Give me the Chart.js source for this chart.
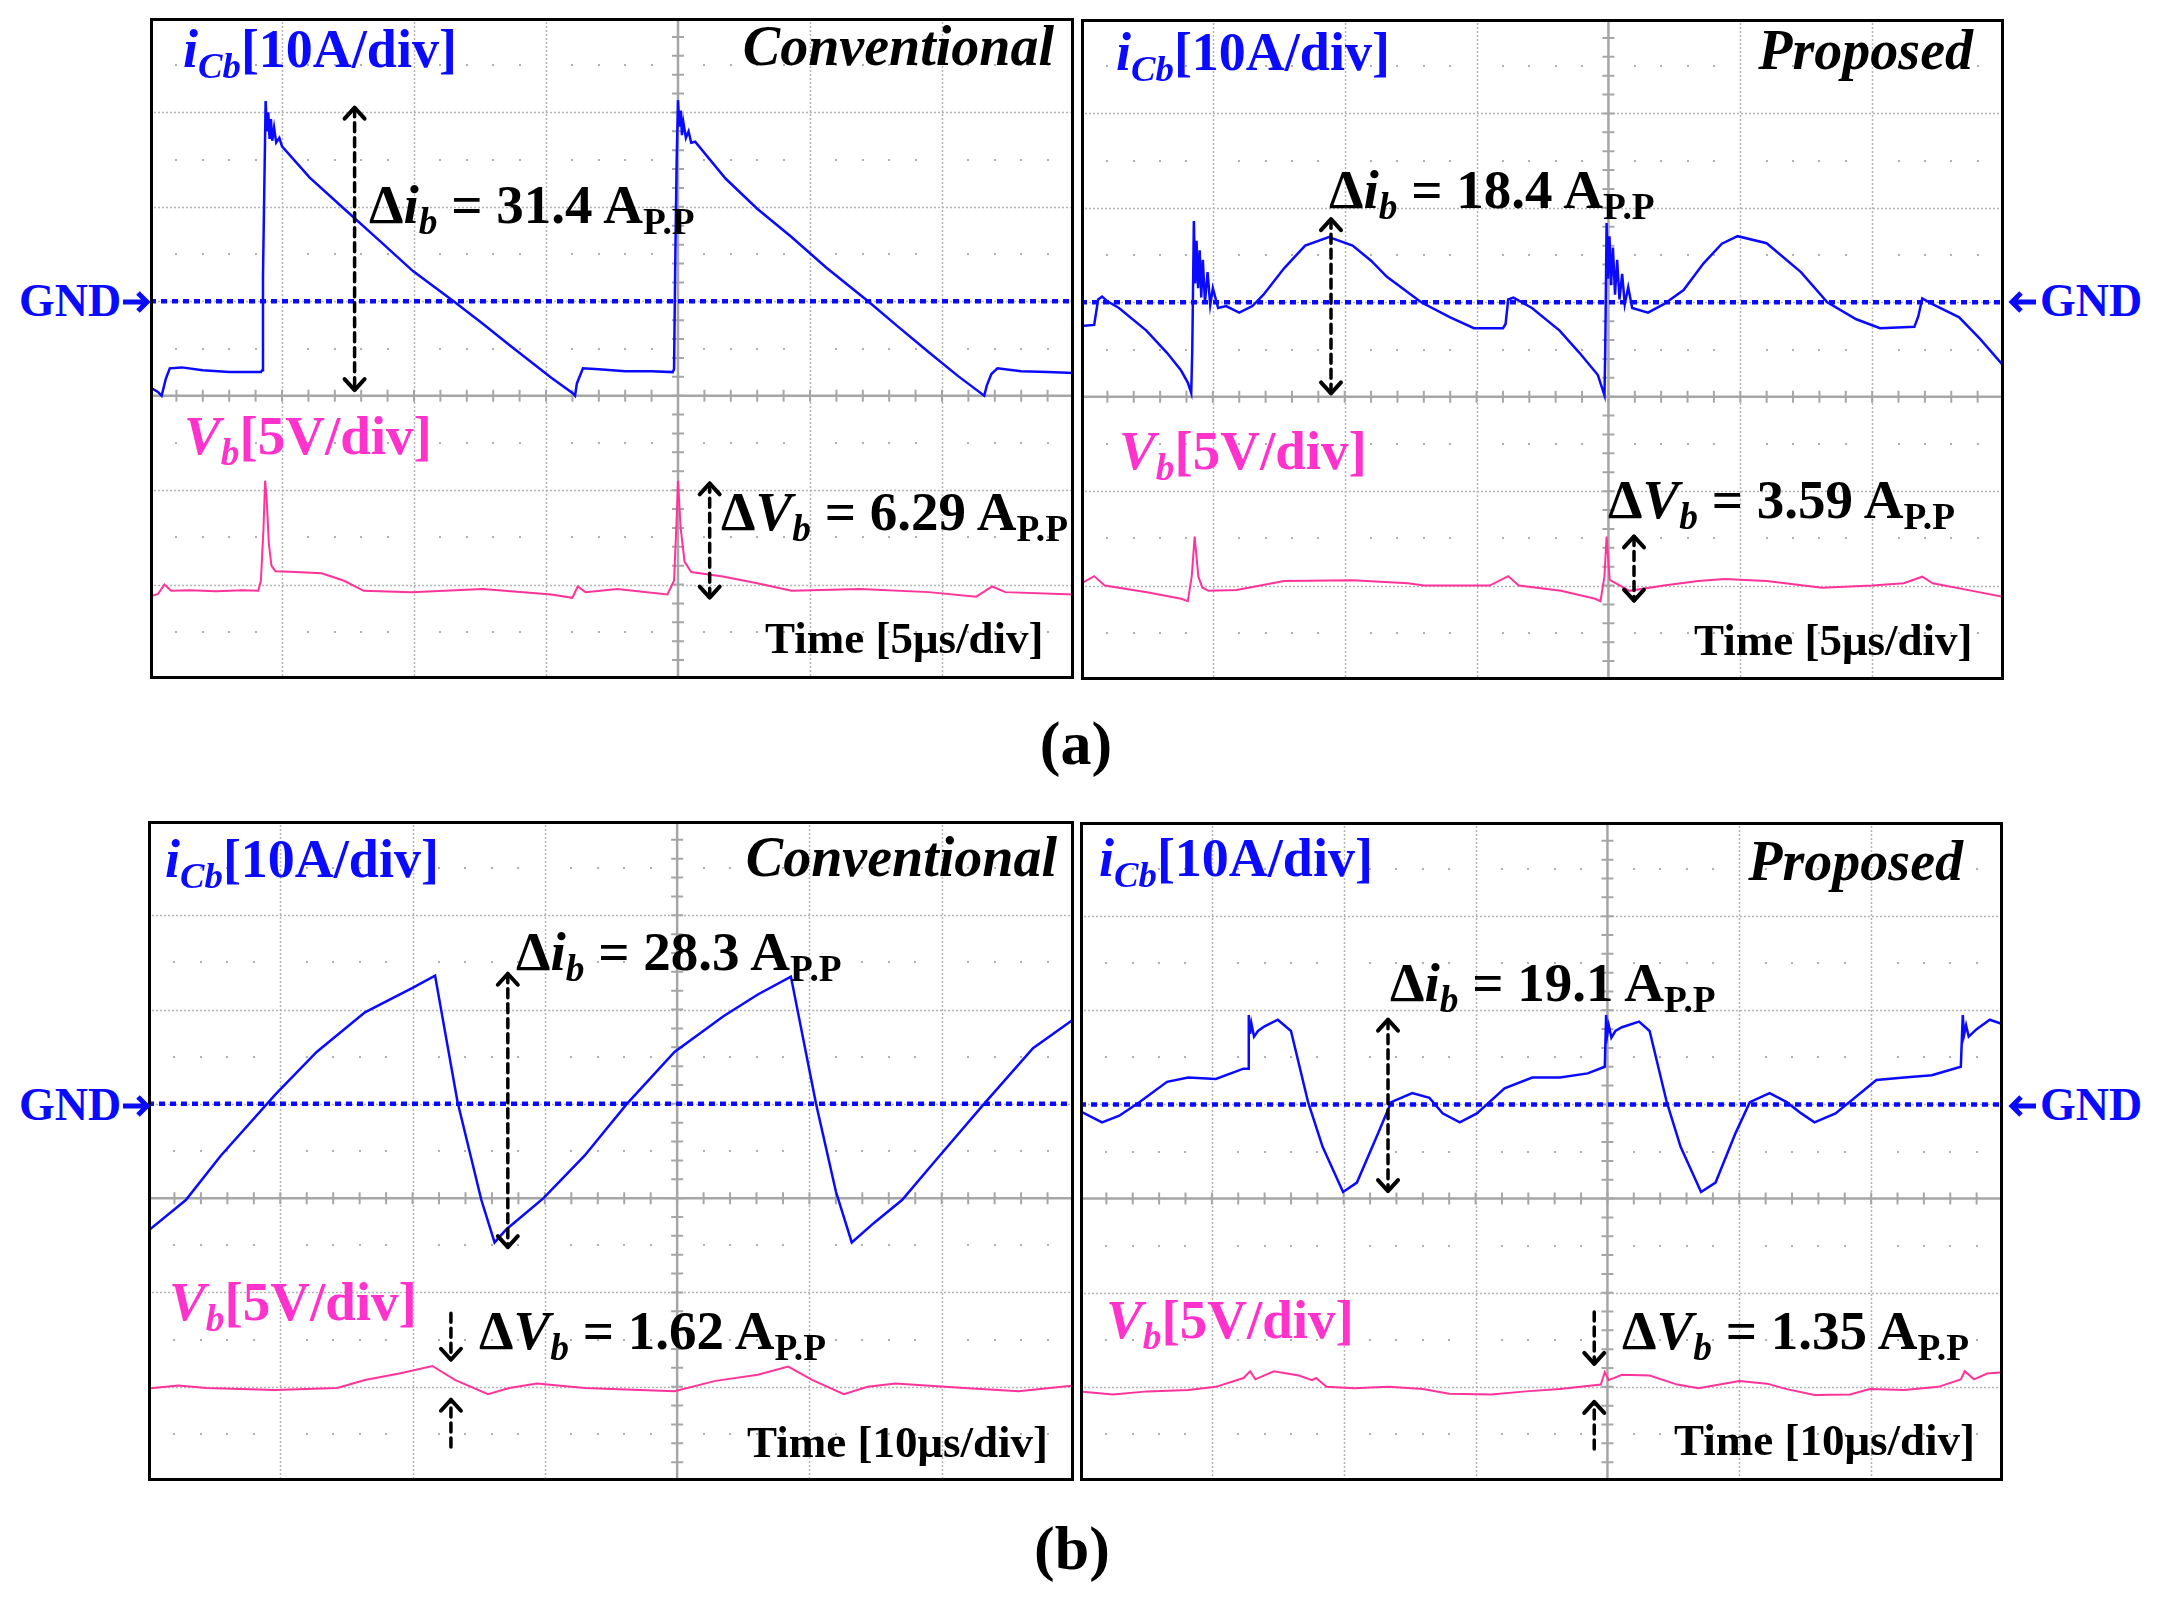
<!DOCTYPE html>
<html>
<head>
<meta charset="utf-8">
<script src="https://cdn.jsdelivr.net/npm/chart.js@4.4.0/dist/chart.umd.min.js"></script>
<style>
  body { margin: 0; width: 2158px; height: 1599px; background: #fff; position: relative; overflow: hidden; }
  .panel { position: absolute; overflow: hidden; background: #fff; }
  .panel canvas { position: absolute; left: 0; top: 0; display: block; }
  .frame { position: absolute; left: 0; top: 0; right: 0; bottom: 0; border: 3px solid #000; box-sizing: border-box; }
  .lbl { position: absolute; white-space: nowrap; font-family: "Liberation Serif", "Times New Roman", serif;
         font-weight: bold; line-height: 1; }
  .lbl sub { font-size: 0.68em; vertical-align: baseline; position: relative; top: 0.3em; line-height: 0; }
  .arw { position: absolute; }
</style>
</head>
<body>
<script>
// ---- (a) conventional, 5us/div ----
const a1Time = [0, 0.3, 0.44, 0.6, 0.75, 1.2, 2.0, 3.0, 4.2, 4.25, 4.28, 4.33, 4.38, 4.43, 4.48, 4.53, 4.58, 4.63, 4.7, 4.78, 4.9, 5.0,
  6.05, 7.35, 8.66, 9.96, 11.5, 12.57, 13.6, 15.2, 16.0, 16.1, 16.17, 16.4, 17.0, 18.0, 19.0, 19.8, 19.85, 19.9, 19.95, 20.0,
  20.05, 20.1, 20.15, 20.2, 20.3, 20.4, 20.5, 20.65, 21.8, 23.0, 24.3, 25.6, 27.2, 28.3, 29.5, 30.6, 31.6, 31.7, 31.87, 32.1, 33.0, 34.0, 35];
const a1Icb = [-9.1, -9.6, -10.0, -8.2, -7.1, -7.0, -7.3, -7.5, -7.5, -7.3, 2.7, 12.0, 21.2, 18.0, 20.0, 17.2, 19.3, 17.0, 18.4, 16.8, 17.3, 16.4,
  13.1, 9.8, 6.5, 3.2, 0, -2.3, -4.6, -8.1, -9.7, -10.0, -8.7, -7.1, -7.2, -7.4, -7.4, -7.5, -7.2, 5.0, 15.0, 21.3,
  18.5, 20.2, 17.6, 19.0, 17.3, 18.0, 16.8, 16.9, 13.0, 9.8, 6.8, 3.6, 0, -2.6, -5.4, -7.9, -10.0, -8.9, -7.7, -7.1, -7.4, -7.5, -7.6];
const a1VbTime = [0, 0.3, 0.55, 0.8, 1.5, 2.5, 3.5, 4.1, 4.2, 4.3, 4.36, 4.42, 4.5, 4.6, 4.75, 5.5, 6.5, 7.35, 8.1, 9.9, 12.6, 15.2, 16.0,
  16.2, 16.5, 17.7, 19.6, 19.85, 19.95, 20.0, 20.1, 20.25, 20.5, 21.7, 23.0, 24.3, 26.9, 29.5, 31.3, 31.9, 32.4, 35];
const a1Vb = [-0.64, -0.5, 0, -0.33, -0.3, -0.35, -0.3, -0.33, 0.2, 3.0, 5.5, 4.5, 2.2, 1.0, 0.7, 0.66, 0.6, 0.2, -0.33, -0.4, -0.24, -0.52, -0.7,
  -0.1, -0.4, -0.24, -0.52, 0.2, 3.5, 5.5, 3.0, 1.2, 0.66, 0.43, 0.07, -0.33, -0.24, -0.4, -0.64, -0.1, -0.4, -0.52];

// ---- (a) proposed, 5us/div ----
const a2Time = [0, 0.5, 0.65, 0.8, 1.0, 1.44, 2.48, 3.26, 3.79, 4.05, 4.18, 4.22, 4.28, 4.33, 4.38, 4.44, 4.5, 4.56, 4.62, 4.7, 4.8, 4.9, 5.0,
  5.2, 5.5, 6.0, 6.5, 6.92, 7.7, 8.5, 9.4, 10.3, 11.0, 11.6, 12.9, 14.0, 14.9, 16.0, 16.1, 16.2, 16.4, 17.1, 18.15, 18.9, 19.6, 19.85,
  19.88, 19.93, 19.98, 20.04, 20.1, 20.17, 20.25, 20.33, 20.42, 20.52, 20.62, 20.75, 20.9, 21.5, 22.1, 22.85, 23.6, 24.3, 24.9, 26.0,
  27.3, 28.3, 29.4, 30.3, 31.6, 31.75, 31.9, 32.25, 33.3, 34.1, 35];
const a2Icb = [-2.5, -2.4, 0.3, 0.6, 0.1, -0.6, -3.0, -5.35, -7.2, -8.5, -9.6, -5.0, 8.6, 2.0, 6.5, 1.5, 5.5, 0.5, 4.5, 0.0, 3.2, -0.3, 1.5,
  -0.6, -0.4, -1.1, -0.4, 0.8, 3.6, 6.0, 6.9, 6.0, 4.4, 2.7, 0, -1.6, -2.75, -2.75, -2.3, 0.3, 0.5, -0.6, -3.0, -5.35, -7.7, -9.85,
  -5.0, 8.4, 2.5, 7.0, 1.8, 5.8, 0.8, 4.5, 0.3, 3.0, -0.2, 1.6, -0.6, -1.1, -0.2, 1.3, 4.1, 6.2, 7.0, 6.25,
  3.2, 0, -1.8, -2.75, -2.6, -1.5, 0.4, -0.15, -1.6, -3.9, -6.8];
const a2VbTime = [0, 0.5, 0.9, 2.5, 3.8, 4.05, 4.2, 4.31, 4.45, 4.6, 4.83, 5.9, 7.7, 10.3, 12.4, 13.0, 15.5, 16.2, 16.6, 18.2, 19.5, 19.7,
  19.85, 19.93, 20.05, 20.8, 22.1, 23.4, 24.4, 26.0, 28.1, 30.0, 31.2, 31.9, 32.3, 33.8, 35];
const a2Vb = [0.1, 0.5, 0, -0.35, -0.7, -0.83, 0.5, 2.6, 0.47, -0.1, -0.28, -0.24, 0.24, 0.28, 0.12, 0, 0, 0.5, 0, -0.28, -0.7, -0.83,
  0.5, 2.6, 0.3, -0.28, 0, 0.24, 0.35, 0.24, -0.12, 0, 0.12, 0.47, 0.12, -0.28, -0.6];

// ---- (b) conventional, 10us/div ----
const b1Time = [0, 0.15, 2.86, 5.5, 9.6, 12.75, 16.4, 20.0, 21.7, 23.4, 25.2, 26.2, 27.1, 29.9, 33.0, 36.2, 39.8, 43.5, 46.1, 48.6,
  50.5, 52.0, 53.2, 54.9, 57.0, 59.6, 63.2, 66.9, 70];
const b1Icb = [-13.6, -13.3, -10.2, -5.5, 0.95, 5.5, 9.7, 12.3, 13.6, 0.2, -10.2, -14.7, -13.3, -10.0, -5.5, 0, 5.5, 9.3, 11.6, 13.5,
  0, -9.3, -14.7, -12.6, -10.2, -5.9, 0, 5.9, 9.0];
const b1VbTime = [0, 2.3, 4.4, 9.6, 14.3, 16.4, 19.0, 21.5, 23.2, 25.7, 27.3, 29.4, 33.0, 39.8, 42.9, 46.1, 48.4, 50.2, 52.6, 54.4,
  56.5, 61.7, 65.8, 70];
const b1Vb = [-0.1, 0.07, -0.07, -0.17, -0.07, 0.36, 0.7, 1.1, 0.36, -0.4, -0.07, 0.17, -0.07, -0.24, 0.31, 0.64, 1.07, 0.36, -0.4, 0,
  0.17, -0.07, -0.24, 0.07];

// ---- (b) proposed, 10us/div ----
const b2Time = [0, 1.67, 2.98, 4.5, 6.6, 8.2, 10.3, 12.4, 12.75, 12.8, 12.9, 13.0, 13.2, 13.5, 14.0, 15.0, 16.0, 17.3, 18.4, 19.95,
  21.0, 22.6, 23.6, 25.2, 26.5, 27.5, 28.8, 30.1, 32.2, 34.3, 36.4, 38.5, 39.8, 39.9, 40.0, 40.1, 40.3, 40.6, 41.1, 42.4, 43.2,
  44.5, 45.55, 47.1, 48.2, 49.7, 50.8, 52.3, 53.6, 54.7, 55.7, 57.3, 60.4, 62.5, 64.6, 66.8, 66.95, 67.05, 67.2, 67.4, 68.0, 69.0, 70];
const b2Icb = [-0.7, -1.9, -1.2, 0.24, 2.4, 2.85, 2.7, 3.8, 3.8, 9.5, 7.5, 8.6, 7.2, 7.8, 8.3, 9.0, 7.8, 0.24, -4.5, -9.3,
  -8.3, -3.1, 0.24, 1.2, 0.7, -0.95, -1.9, -0.95, 1.7, 2.85, 2.85, 3.3, 4.0, 9.5, 7.5, 8.4, 7.1, 7.8, 8.2, 8.8, 7.8,
  0.24, -4.5, -9.3, -8.3, -3.1, 0.24, 1.2, 0.24, -0.95, -1.9, -0.95, 2.6, 2.85, 3.1, 4.0, 9.5, 7.4, 8.4, 7.2, 8.0, 9.0, 8.5];
const b2VbTime = [0, 2.5, 5.1, 8.2, 10.3, 12.4, 12.9, 13.3, 14.7, 16.6, 17.6, 17.9, 18.7, 20.8, 23.4, 26.0, 28.0, 31.2, 33.8, 36.4,
  39.5, 39.8, 40.1, 41.1, 43.2, 45.3, 46.9, 50.0, 52.1, 53.6, 55.7, 58.4, 59.9, 62.5, 65.1, 66.8, 67.1, 67.8, 68.8, 70];
const b2Vb = [-0.24, -0.4, -0.24, -0.17, 0, 0.47, 0.83, 0.4, 0.83, 0.6, 0.36, 0.47, 0, -0.07, 0, -0.12, -0.36, -0.4, -0.24, -0.12,
  0.12, 0.78, 0.36, 0.64, 0.6, 0.12, -0.07, 0.31, 0.17, -0.12, -0.43, -0.4, -0.12, -0.17, 0, 0.4, 0.83, 0.4, 0.71, 0.78];

const BLUE = '#0a0aff';
const PINK = '#ff3399';
const MAGENTA = '#ff33cc';

const ICB = '<i>i<sub>Cb</sub></i>[10A/div]';
const VB = '<i>V<sub>b</sub></i>[5V/div]';
function dI(v) { return '&Delta;<i>i<sub>b</sub></i> = ' + v + ' A<sub>P.P</sub>'; }
function dV(v) { return '&Delta;<i>V<sub>b</sub></i> = ' + v + ' A<sub>P.P</sub>'; }

function xy(ts, vs) { return ts.map((t, k) => ({ x: t, y: vs[k] })); }

// oscilloscope graticule, GND marker and the dashed measurement arrows
const scopePlugin = {
  id: 'scope',
  beforeDatasetsDraw(chart, args, opts) {
    const ctx = chart.ctx, x = chart.scales.x, y = chart.scales.yI;
    const a = chart.chartArea;
    const xd = opts.xDiv;
    ctx.save();
    // dotted division lines
    ctx.strokeStyle = '#b4b4b4';
    ctx.lineWidth = 1.5;
    ctx.setLineDash([2, 2]);
    for (let k = 1; k < 7; k++) {
      if (k === 4) continue;
      const px = Math.round(x.getPixelForValue(k * xd)) + 0.5;
      ctx.beginPath(); ctx.moveTo(px, a.top); ctx.lineTo(px, a.bottom); ctx.stroke();
    }
    for (let v = -30; v <= 20; v += 10) {
      if (v === -10) continue;
      const py = Math.round(y.getPixelForValue(v)) + 0.5;
      ctx.beginPath(); ctx.moveTo(a.left, py); ctx.lineTo(a.right, py); ctx.stroke();
    }
    ctx.setLineDash([]);
    // half-division dot rows
    ctx.fillStyle = '#b0b0b0';
    for (let v = -35; v <= 25; v += 10) {
      const py = Math.round(y.getPixelForValue(v));
      for (let s = 1; s < 35; s++) {
        if (s % 5 === 0) continue;
        const px = Math.round(x.getPixelForValue(s * xd / 5));
        ctx.fillRect(px - 1, py - 1, 2, 2);
      }
    }
    // solid centre axes with minor ticks
    ctx.strokeStyle = '#a6a6a6';
    ctx.lineWidth = 2.5;
    const cx = x.getPixelForValue(4 * xd), cy = y.getPixelForValue(-10);
    ctx.beginPath();
    ctx.moveTo(cx, a.top); ctx.lineTo(cx, a.bottom);
    ctx.moveTo(a.left, cy); ctx.lineTo(a.right, cy);
    ctx.stroke();
    ctx.lineWidth = 2;
    ctx.beginPath();
    for (let s = 1; s < 35; s++) {
      const px = x.getPixelForValue(s * xd / 5);
      ctx.moveTo(px, cy - 6); ctx.lineTo(px, cy + 6);
      const py = y.getPixelForValue(-40 + s * 2);
      ctx.moveTo(cx - 6, py); ctx.lineTo(cx + 6, py);
    }
    ctx.stroke();
    // GND reference
    const gy = y.getPixelForValue(0);
    ctx.strokeStyle = BLUE;
    ctx.lineWidth = 4.5;
    ctx.setLineDash([6, 5]);
    ctx.beginPath(); ctx.moveTo(a.left, gy); ctx.lineTo(a.right, gy); ctx.stroke();
    ctx.restore();
  },
  afterDatasetsDraw(chart, args, opts) {
    const ctx = chart.ctx;
    ctx.save();
    ctx.strokeStyle = '#000';
    ctx.lineCap = 'round';
    ctx.lineJoin = 'round';
    (opts.arrows || []).forEach(ar => {
      const sc = chart.scales[ar.axis];
      const px = chart.scales.x.getPixelForValue(ar.x);
      const p1 = sc.getPixelForValue(ar.from), p2 = sc.getPixelForValue(ar.to);
      ctx.lineWidth = 3.5;
      ctx.setLineDash([9, 6]);
      ctx.beginPath(); ctx.moveTo(px, p1); ctx.lineTo(px, p2); ctx.stroke();
      ctx.setLineDash([]);
      ctx.lineWidth = 4;
      const tips = ar.both ? [p1, p2] : [p2];
      tips.forEach(tp => {
        const other = tp === p1 ? p2 : p1;
        const dir = other > tp ? 1 : -1;
        ctx.beginPath();
        ctx.moveTo(px - 10, tp + dir * 11); ctx.lineTo(px, tp); ctx.lineTo(px + 10, tp + dir * 11);
        ctx.stroke();
      });
    });
    ctx.restore();
  }
};

const panels = [
  { left: 150, top: 18, w: 924, h: 661, xDiv: 5,
    iT: a1Time, iV: a1Icb, vT: a1VbTime, vV: a1Vb,
    arrows: [{ x: 7.75, axis: 'yI', from: 20.5, to: -9.4, both: true },
             { x: 21.2, axis: 'yV', from: 5.36, to: -0.69, both: true }],
    labels: [[ICB, 183, 67, 54, BLUE], ['<i>Conventional</i>', -1054, 65, 56, '#000'], [dI('31.4'), 369, 223, 55, '#000'],
             [VB, 184, 454, 55, MAGENTA], [dV('6.29'), 721, 530, 55, '#000'], ['Time [5&mu;s/div]', 765, 654, 45, '#000']] },
  { left: 1081, top: 19, w: 923, h: 661, xDiv: 5,
    iT: a2Time, iV: a2Icb, vT: a2VbTime, vV: a2Vb,
    arrows: [{ x: 9.48, axis: 'yI', from: 8.8, to: -9.65, both: true },
             { x: 20.97, axis: 'yV', from: 2.6, to: -0.8, both: true }],
    labels: [[ICB, 1116, 70, 54, BLUE], ['<i>Proposed</i>', -1973, 69, 56, '#000'], [dI('18.4'), 1329, 208, 55, '#000'],
             [VB, 1119, 469, 55, MAGENTA], [dV('3.59'), 1608, 518, 55, '#000'], ['Time [5&mu;s/div]', 1694, 656, 45, '#000']] },
  { left: 148, top: 821, w: 926, h: 660, xDiv: 10,
    iT: b1Time, iV: b1Icb, vT: b1VbTime, vV: b1Vb,
    arrows: [{ x: 27.2, axis: 'yI', from: 13.8, to: -15.2, both: true },
             { x: 22.9, axis: 'yV', from: 3.9, to: 1.43 },
             { x: 22.9, axis: 'yV', from: -3.2, to: -0.69 }],
    labels: [[ICB, 165, 877, 54, BLUE], ['<i>Conventional</i>', -1057, 876, 56, '#000'], [dI('28.3'), 516, 970, 55, '#000'],
             [VB, 169, 1320, 55, MAGENTA], [dV('1.62'), 479, 1349, 55, '#000'], ['Time [10&mu;s/div]', 747, 1458, 45, '#000']] },
  { left: 1080, top: 822, w: 923, h: 659, xDiv: 10,
    iT: b2Time, iV: b2Icb, vT: b2VbTime, vV: b2Vb,
    arrows: [{ x: 23.36, axis: 'yI', from: 9.0, to: -9.2, both: true },
             { x: 39.0, axis: 'yV', from: 3.98, to: 1.22 },
             { x: 39.0, axis: 'yV', from: -3.3, to: -0.8 }],
    labels: [[ICB, 1099, 876, 54, BLUE], ['<i>Proposed</i>', -1963, 880, 56, '#000'], [dI('19.1'), 1390, 1001, 55, '#000'],
             [VB, 1106, 1338, 55, MAGENTA], [dV('1.35'), 1622, 1349, 55, '#000'], ['Time [10&mu;s/div]', 1674, 1456, 45, '#000']] }
];

function addLabel(parent, html, x, baseline, size, color, offX, offY) {
  const d = document.createElement('div');
  d.className = 'lbl';
  d.innerHTML = html;
  d.style.fontSize = size + 'px';
  d.style.color = color;
  d.style.top = (baseline - 0.8375 * size - offY) + 'px';
  if (x < 0) d.style.right = (offX - (-x)) + 'px';
  else d.style.left = (x - offX) + 'px';
  parent.appendChild(d);
}

panels.forEach(p => {
  const wrap = document.createElement('div');
  wrap.className = 'panel';
  wrap.style.left = p.left + 'px';
  wrap.style.top = p.top + 'px';
  wrap.style.width = p.w + 'px';
  wrap.style.height = p.h + 'px';
  const cv = document.createElement('canvas');
  cv.width = p.w;
  cv.height = p.h;
  wrap.appendChild(cv);
  p.labels.forEach(l => addLabel(wrap, l[0], l[1], l[2], l[3], l[4], l[1] < 0 ? p.left + p.w : p.left, p.top));
  const fr = document.createElement('div');
  fr.className = 'frame';
  wrap.appendChild(fr);
  document.body.appendChild(wrap);

  new Chart(cv, {
    type: 'line',
    data: {
      datasets: [
        { label: 'iCb', data: xy(p.iT, p.iV), yAxisID: 'yI', borderColor: BLUE, borderWidth: 2.5, pointRadius: 0, tension: 0, fill: false },
        { label: 'Vb', data: xy(p.vT, p.vV), yAxisID: 'yV', borderColor: PINK, borderWidth: 2, pointRadius: 0, tension: 0, fill: false }
      ]
    },
    options: {
      responsive: false,
      animation: false,
      devicePixelRatio: 1,
      events: [],
      layout: { padding: 0 },
      plugins: {
        legend: { display: false },
        tooltip: { enabled: false },
        scope: { xDiv: p.xDiv, arrows: p.arrows }
      },
      scales: {
        x: { type: 'linear', min: 0, max: 7 * p.xDiv, display: false },
        yI: { type: 'linear', min: -40, max: 30, display: false },
        yV: { type: 'linear', min: -5, max: 30, display: false }
      }
    },
    plugins: [scopePlugin]
  });
});

// labels outside the scope screens
const outer = [
  ['GND', 19, 317, 46, BLUE, false], ['GND', 2040, 317, 46, BLUE, false],
  ['GND', 19, 1121, 46, BLUE, false], ['GND', 2040, 1121, 46, BLUE, false],
  ['(a)', 1076, 764, 62, '#000', true], ['(b)', 1072, 1569, 62, '#000', true]
];
outer.forEach(o => {
  const d = document.createElement('div');
  d.className = 'lbl';
  d.textContent = o[0];
  d.style.fontSize = o[3] + 'px';
  d.style.color = o[4];
  d.style.top = (o[2] - 0.8375 * o[3]) + 'px';
  d.style.left = o[1] + 'px';
  if (o[5]) d.style.transform = 'translateX(-50%)';
  document.body.appendChild(d);
});

// bold GND pointer arrows beside the screens
[[121, 302, 1], [2008, 302, -1], [121, 1106, 1], [2008, 1106, -1]].forEach(a => {
  const ns = 'http://www.w3.org/2000/svg';
  const s = document.createElementNS(ns, 'svg');
  s.setAttribute('class', 'arw');
  s.setAttribute('width', '30');
  s.setAttribute('height', '30');
  s.style.left = a[0] + 'px';
  s.style.top = (a[1] - 15) + 'px';
  const path = document.createElementNS(ns, 'path');
  path.setAttribute('d', a[2] > 0 ? 'M2 15 H26 M17 6 L26 15 L17 24' : 'M28 15 H4 M13 6 L4 15 L13 24');
  path.setAttribute('stroke', BLUE);
  path.setAttribute('stroke-width', '5');
  path.setAttribute('fill', 'none');
  path.setAttribute('stroke-linejoin', 'miter');
  s.appendChild(path);
  document.body.appendChild(s);
});
</script>
</body>
</html>
